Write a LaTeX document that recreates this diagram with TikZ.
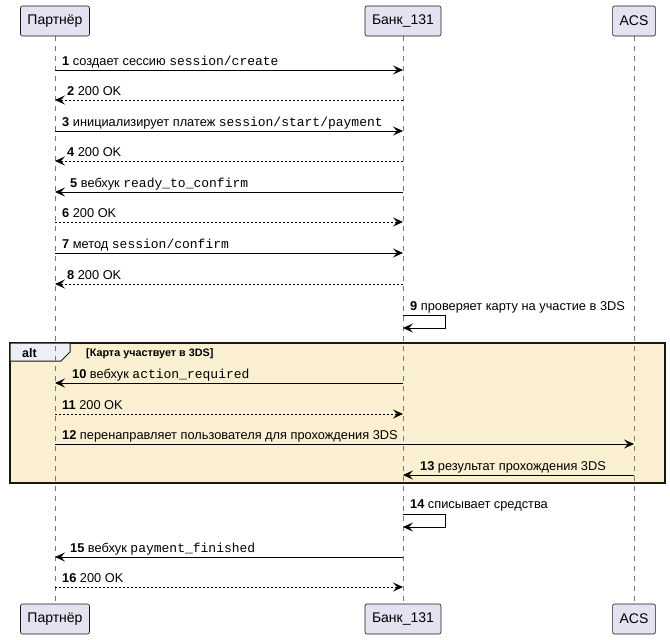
\documentclass[tikz,border=0pt]{standalone}
\usepackage{fontspec}
\setmainfont{Liberation Sans}
\setsansfont{Liberation Sans}
\setmonofont{Liberation Mono}
\usetikzlibrary{arrows.meta}
\definecolor{partfill}{RGB}{226,226,240}
\definecolor{partline}{RGB}{24,24,24}
\definecolor{altfill}{RGB}{250,239,208}
\definecolor{lifegray}{RGB}{120,120,120}
\tikzset{
 part/.style={draw=partline,fill=partfill,rounded corners=2pt,minimum height=30pt,inner xsep=7pt,font=\fontsize{14}{16}\selectfont,line width=0.6pt},
 msgline/.style={line width=0.8pt,-{Stealth[length=10pt,width=9pt,inset=4pt]}},
 retline/.style={msgline,dash pattern=on 2pt off 2pt},
 lbl/.style={font=\fontsize{12.8}{14}\selectfont,inner sep=0pt,anchor=base west},
 life/.style={draw=lifegray,dash pattern=on 5pt off 5pt,line width=0.5pt}
}
\newcommand{\mt}[1]{{\fontsize{13}{14}\ttfamily #1}}
\begin{document}
\begin{tikzpicture}[x=1pt,y=-1pt]
\useasboundingbox (0,0) rectangle (670,640);
\coordinate (P) at (55,0);
\coordinate (B) at (403,0);
\coordinate (A) at (634,0);
% alt box
\draw[fill=altfill,draw=partline,line width=1.2pt] (10,343) rectangle (665,483);
\draw[fill=partfill!60!white,draw=partline,line width=1pt] (10,343) -- (70,343) -- (70,352) -- (61,361) -- (10,361) -- cycle;
\node[font=\bfseries\fontsize{12.5}{13}\selectfont,anchor=base west,inner sep=0pt] (alt) at (22,357) {alt};
\node[font=\bfseries\fontsize{10.8}{12}\selectfont,anchor=base west,inner sep=0pt] (guard) at (86,356) {[Карта участвует в 3DS]};
% lifelines
\foreach \c in {P,B,A}{\draw[life] (\c |- 0,36) -- (\c |- 0,604);}
% headers
\node[part] (Pt) at (55,21) {Партнёр};
\node[part] (Bt) at (403,21) {Банк\_131};
\node[part] (At) at (634,21) {ACS};
\node[part] (Pb) at (55,619) {Партнёр};
\node[part] (Bb) at (403,619) {Банк\_131};
\node[part] (Ab) at (634,619) {ACS};
% messages
\newcommand{\rmsg}[6]{% y, from, to, num, text, style
 \draw[#6] (#2 |- 0,#1) -- (#3 |- 0,#1);}
\rmsg{70}{P}{B}{}{}{msgline}
\node[lbl] (l1) at (62,65) {\textbf{1} создает сессию \mt{session/create}};
\rmsg{100}{B}{P}{}{}{retline}
\node[lbl] (l2) at (67,95) {\textbf{2} 200 OK};
\rmsg{131}{P}{B}{}{}{msgline}
\node[lbl] (l3) at (62,126) {\textbf{3} инициализирует платеж \mt{session/start/payment}};
\rmsg{161}{B}{P}{}{}{retline}
\node[lbl] (l4) at (67,156) {\textbf{4} 200 OK};
\rmsg{192}{B}{P}{}{}{msgline}
\node[lbl] (l5) at (70,187) {\textbf{5} вебхук \mt{ready\_to\_confirm}};
\rmsg{222}{P}{B}{}{}{retline}
\node[lbl] (l6) at (62,217) {\textbf{6} 200 OK};
\rmsg{253}{P}{B}{}{}{msgline}
\node[lbl] (l7) at (62,248) {\textbf{7} метод \mt{session/confirm}};
\rmsg{284}{B}{P}{}{}{retline}
\node[lbl] (l8) at (67,279) {\textbf{8} 200 OK};
% self 9
\draw[msgline] (B |- 0,315) -- (445,315) -- (445,328) -- (B |- 0,328);
\node[lbl] (l9) at (410,310) {\textbf{9} проверяет карту на участие в 3DS};
\rmsg{383}{B}{P}{}{}{msgline}
\node[lbl] (l10) at (72,378) {\textbf{10} вебхук \mt{action\_required}};
\rmsg{414}{P}{B}{}{}{retline}
\node[lbl] (l11) at (62,409) {\textbf{11} 200 OK};
\rmsg{444}{P}{A}{}{}{msgline}
\node[lbl] (l12) at (62,439) {\textbf{12} перенаправляет пользователя для прохождения 3DS};
\rmsg{475}{A}{B}{}{}{msgline}
\node[lbl] (l13) at (420,470) {\textbf{13} результат прохождения 3DS};
% self 14
\draw[msgline] (B |- 0,514) -- (445,514) -- (445,527) -- (B |- 0,527);
\node[lbl] (l14) at (410,508) {\textbf{14} списывает средства};
\rmsg{557}{B}{P}{}{}{msgline}
\node[lbl] (l15) at (70,552) {\textbf{15} вебхук \mt{payment\_finished}};
\rmsg{587}{P}{B}{}{}{retline}
\node[lbl] (l16) at (62,582) {\textbf{16} 200 OK};
\end{tikzpicture}
\end{document}
